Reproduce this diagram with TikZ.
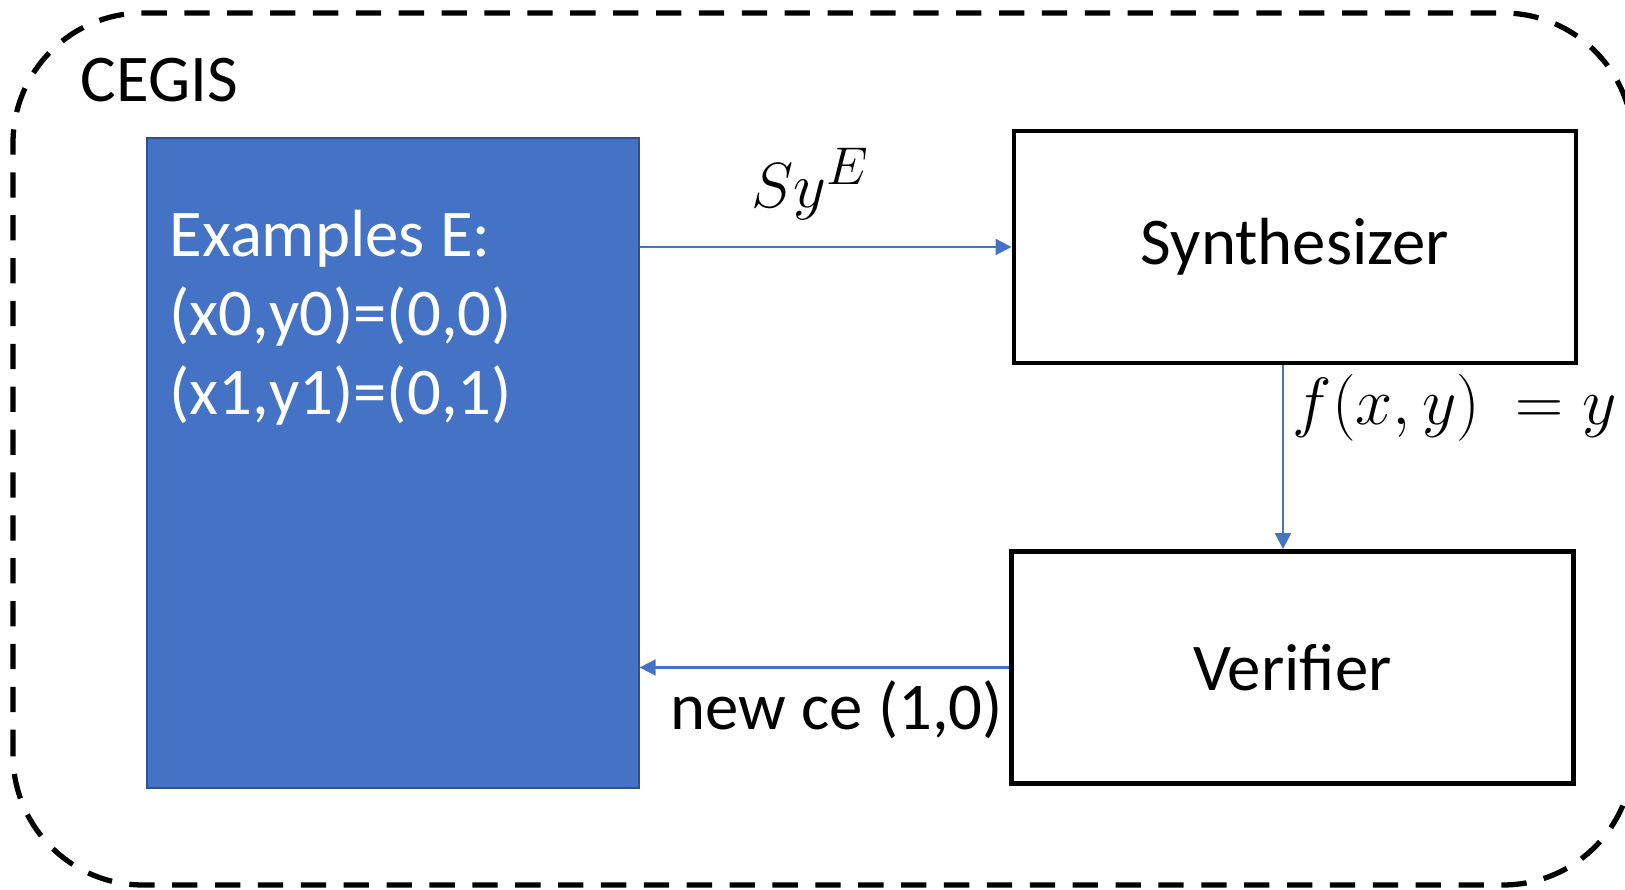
\documentclass[tikz,border=0pt]{standalone}
\usepackage{fontspec}
\setmainfont{Carlito}
\usetikzlibrary{arrows.meta}
\definecolor{accentblue}{HTML}{4472C4}
\definecolor{accentdark}{HTML}{2F528F}
\tikzset{module/.style={draw=black, line width=1.4pt, minimum width=5.62cm, minimum height=2.32cm, inner sep=0pt}}
\tikzset{flow/.style={draw=accentblue, line width=0.6pt, -{Triangle[length=4.5pt,width=4.5pt]}}}

\begin{document}
\begin{tikzpicture}[font=\fontsize{19}{22.5}\selectfont]
    \useasboundingbox (0,0) rectangle (16.25,8.9);
    % outer loop
    \draw[line width=1.5pt, dash pattern=on 7.2pt off 5pt, rounded corners=1.3cm] (0.13,0.05) rectangle (16.33,8.77);
    \node[anchor=base west, inner sep=0pt] (cegis) at (0.80,7.88) {CEGIS};
    % examples block
    \node[fill=accentblue, draw=accentdark, line width=0.4pt, minimum width=4.92cm, minimum height=6.5cm] (examples) at (3.93,4.27) {};
    \node[anchor=north west, align=left, text=white, inner sep=0pt] (extext) at (1.69,6.81) {Examples E:\\(x0,y0)=(0,0)\\(x1,y1)=(0,1)};
    % synthesizer and verifier
    \node[module] (synth) at (12.95,6.43) {Synthesizer};
    \node[module] (verif) at (12.925,2.225) {Verifier};
    % arrows
    \draw[flow] (examples.east |- synth.west) -- (synth.west);
    \draw[flow] ([xshift=-0.12cm]synth.south) -- ([xshift=-0.12cm]synth.south |- verif.north);
    \draw[flow] (verif.west) -- (verif.west -| examples.east);
    % labels
    \node[anchor=base, inner sep=0pt, transform shape, scale=1.05] (sylbl) at (8.11,6.82) {$Sy^E$};
    \node[anchor=base west, inner sep=0pt, transform shape, scale=1.1] (flbl) at (12.92,4.65) {$f(x,y)\ = y$};
    \node[anchor=base west, inner sep=0pt] (celbl) at (6.70,1.60) {new ce (1,0)};
\end{tikzpicture}
\end{document}
